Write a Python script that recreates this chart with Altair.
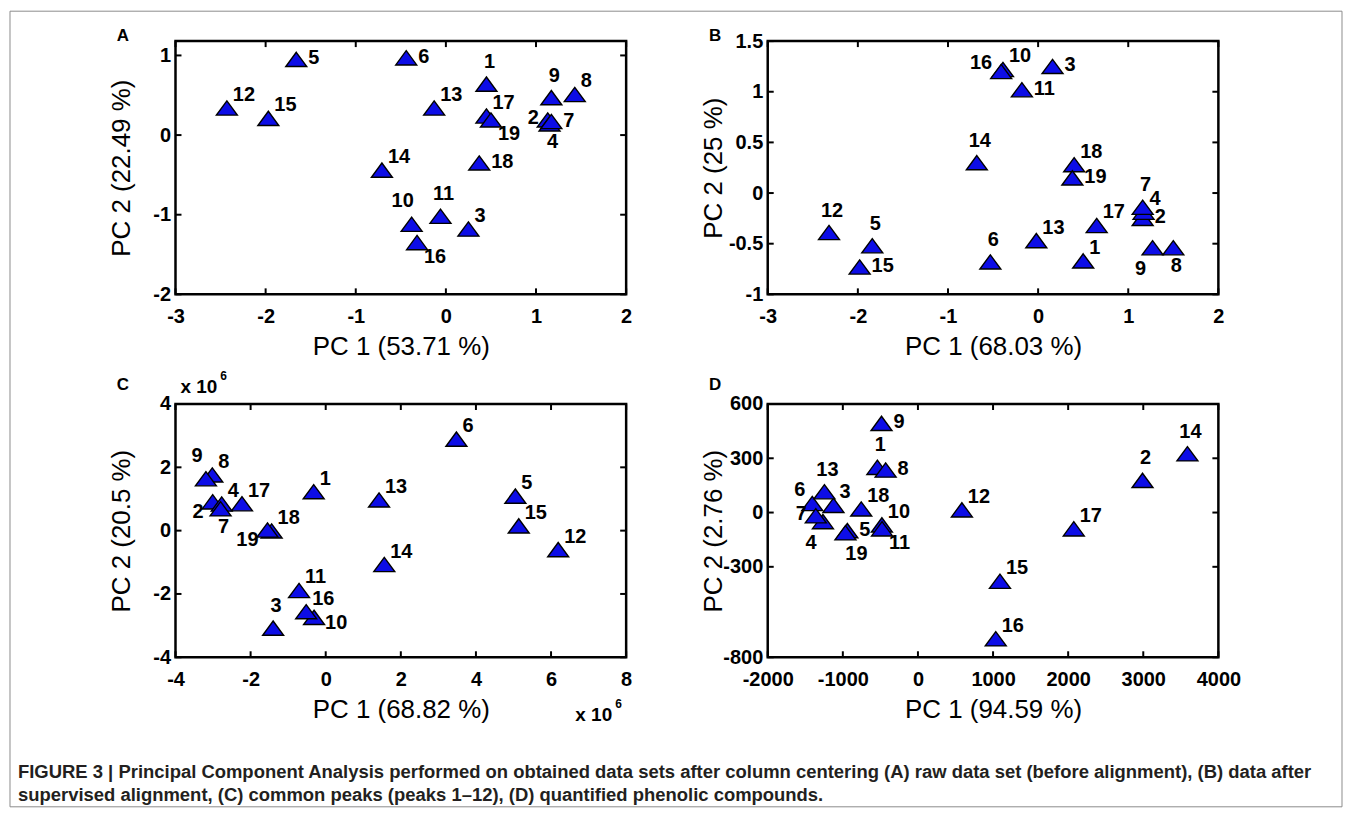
import altair as alt
import pandas as pd

LABELS = [str(i) for i in range(1, 20)]

# Panel A: raw data set
A_X = [0.45, 1.13, 0.25, 1.15, -1.66, -0.44, 1.17, 1.43, 1.17, -0.38, -0.06, -2.43, -0.13, -0.71, -1.97, -0.32, 0.45, 0.37, 0.50]
A_Y = [0.64, 0.19, -1.18, 0.14, 0.95, 0.97, 0.17, 0.51, 0.47, -1.12, -1.02, 0.34, 0.34, -0.44, 0.21, -1.35, 0.24, -0.35, 0.19]
A_POS = ["N", "W", "NE", "S", "E", "E", "E", "NE", "N", "NW", "N", "NE", "NE", "NE", "NE", "SE", "NE", "E", "SE"]

# Panel B: after supervised alignment
B_X = [0.50, 1.16, 0.16, 1.17, -1.84, -0.53, 1.16, 1.50, 1.27, -0.39, -0.18, -2.32, -0.02, -0.68, -1.98, -0.41, 0.65, 0.40, 0.38]
B_Y = [-0.67, -0.25, 1.25, -0.19, -0.52, -0.68, -0.14, -0.54, -0.54, 1.22, 1.02, -0.39, -0.47, 0.30, -0.73, 1.20, -0.32, 0.28, 0.15]
B_POS = ["NE", "E", "E", "NE", "N", "N", "N", "S", "SW", "NE", "E", "N", "NE", "N", "E", "WNW", "NE", "NE", "E"]

# Panel C: common peaks (x 10^6)
C_X = [-0.32, -3.01, -1.40, -2.77, 5.05, 3.48, -2.80, -3.02, -3.19, -0.31, -0.71, 6.19, 1.42, 1.56, 5.14, -0.52, -2.23, -1.44, -1.55]
C_Y = [1.23, 0.91, -3.08, 0.84, 1.09, 2.89, 0.69, 1.76, 1.64, -2.74, -1.89, -0.60, 0.97, -1.07, 0.15, -2.56, 0.85, -0.01, 0.02]
C_POS = ["NE", "WSW", "N", "NE", "NE", "NE", "S", "NE", "NW", "ESE", "NE", "NE", "NE", "NE", "NE", "NE", "NE", "NE", "WSW"]

# Panel D: quantified phenolic compounds
D_X = [-540, 2990, -1125, -1265, -940, -1407, -1360, -430, -485, -480, -478, 585, -1245, 3588, 1092, 1036, 2075, -755, -965]
D_Y = [250, 178, 40, -50, -100, 50, -18, 235, 493, -68, -90, 15, 115, 325, -380, -698, -90, 20, -112]
D_POS = ["N", "N", "NE", "SW", "E", "WN", "W", "E", "E", "NE", "SE", "NE", "N", "N", "NE", "NE", "NE", "NE", "SSE"]

A_XT = [-3, -2, -1, 0, 1, 2]
A_YT = [-2, -1, 0, 1]
B_XT = [-3, -2, -1, 0, 1, 2]
B_YT = [-1, -0.5, 0, 0.5, 1, 1.5]
C_XT = [-4, -2, 0, 2, 4, 6, 8]
C_YT = [-4, -2, 0, 2, 4]
D_XT = [-2000, -1000, 0, 1000, 2000, 3000, 4000]
D_YT = [-800, -300, 0, 300, 600]

CAPTION_1 = ("FIGURE 3 | Principal Component Analysis performed on obtained data sets after column "
             "centering (A) raw data set (before alignment), (B) data after")
CAPTION_2 = "supervised alignment, (C) common peaks (peaks 1\u201312), (D) quantified phenolic compounds."

BLUE = "#0d0de6"
NUM_FONT = "Liberation Sans, Arial, Helvetica, sans-serif"
TXT_FONT = "Liberation Sans, Arial, Helvetica, sans-serif"
NUM_SIZE = 20
W, H = 452, 254
TRI = "M0,-0.68L1,0.68L-1,0.68Z"

PLACE = {
    "E": ("left", 12, -1),
    "NE": ("left", 6, -13),
    "N": ("center", 3, -22),
    "NW": ("center", -9, -23),
    "W": ("right", -9, -2),
    "S": ("center", 3, 18),
    "SE": ("left", 7, 14),
    "SW": ("center", -12, 21),
    "WNW": ("right", -9, -8),
    "WN": ("right", -7, -14),
    "WSW": ("right", -9, 10),
    "ESE": ("left", 11, 6),
    "SSE": ("center", 11, 21),
}


def one():
    return alt.Chart(pd.DataFrame({"k": [0]}))


def note(text, x, y, font=TXT_FONT, size=17, weight="bold", align="left", color="black"):
    return one().mark_text(align=align, baseline="middle", font=font, fontSize=size,
                           fontWeight=weight, color=color).encode(
        x=alt.value(x), y=alt.value(y), text=alt.value(text))


def panel(xs, ys, pos, xdom, ydom, xt, yt, xtitle, ytitle, letter, letter_y, extra=()):
    df = pd.DataFrame({"label": LABELS, "x": xs, "y": ys, "pos": pos})
    xaxis = alt.Axis(values=xt, ticks=False, tickSize=0, domain=False, grid=False,
                     labelExpr="'' + datum.value", labelFont=NUM_FONT, labelFontSize=NUM_SIZE,
                     labelFontWeight="bold", labelColor="black", labelPadding=22,
                     labelBaseline="middle", labelFlush=False, labelOverlap=False, labelBound=False,
                     title=xtitle, titleFont=TXT_FONT, titleFontSize=26, titleFontWeight="normal",
                     titleColor="black", titleY=52, titleBaseline="middle")
    yaxis = alt.Axis(values=yt, ticks=False, tickSize=0, domain=False, grid=False,
                     labelExpr="'' + datum.value", labelFont=NUM_FONT, labelFontSize=NUM_SIZE,
                     labelFontWeight="bold", labelColor="black", labelPadding=5,
                     labelBaseline="middle", labelFlush=False, labelOverlap=False, labelBound=False,
                     title=ytitle, titleFont=TXT_FONT, titleFontSize=26, titleFontWeight="normal",
                     titleColor="black", titleX=-54, titleY=H / 2, titleAngle=270,
                     titleBaseline="middle", titleAlign="center")
    xenc = alt.X("x:Q", scale=alt.Scale(domain=xdom, nice=False, zero=False), axis=xaxis)
    yenc = alt.Y("y:Q", scale=alt.Scale(domain=ydom, nice=False, zero=False), axis=yaxis)

    xt_df = pd.DataFrame({"x": xt})
    yt_df = pd.DataFrame({"y": yt})
    layers = [
        alt.Chart(xt_df).mark_rule(color="black", strokeWidth=2).encode(x=xenc, y=alt.value(0), y2=alt.value(6)),
        alt.Chart(xt_df).mark_rule(color="black", strokeWidth=2).encode(x=xenc, y=alt.value(H - 6), y2=alt.value(H)),
        alt.Chart(yt_df).mark_rule(color="black", strokeWidth=2).encode(y=yenc, x=alt.value(0), x2=alt.value(6)),
        alt.Chart(yt_df).mark_rule(color="black", strokeWidth=2).encode(y=yenc, x=alt.value(W - 6), x2=alt.value(W)),
    ]
    base = alt.Chart(df)
    layers.append(base.mark_point(shape=TRI, filled=True, fill=BLUE, stroke="black", strokeWidth=1.4,
                                  size=441, opacity=1).encode(x=xenc, y=yenc))
    for code, (al, dx, dy) in PLACE.items():
        if code not in pos:
            continue
        layers.append(base.transform_filter(alt.datum.pos == code).mark_text(
            align=al, baseline="middle", dx=dx, dy=dy, font=NUM_FONT, fontSize=NUM_SIZE,
            fontWeight="bold", color="black").encode(x=xenc, y=yenc, text="label:N"))
    layers.append(note(letter, -59, letter_y, size=17))
    layers.extend(extra)
    return alt.layer(*layers).properties(width=W, height=H)


frame = one().mark_rect(fillOpacity=0, stroke="#8c8c8c", strokeWidth=1).encode(
    x=alt.value(-166), x2=alt.value(1170), y=alt.value(-30), y2=alt.value(768))

c_extra = [
    note("x 10", 5, -17, size=19),
    note("6", 45, -28, size=12),
    note("x 10", 401, H + 58, size=19),
    note("6", 441, H + 47, size=12),
    note(CAPTION_1, -158, 369, size=18.5, color="#231f20"),
    note(CAPTION_2, -158, 392, size=18.5, color="#231f20"),
]

pa = panel(A_X, A_Y, A_POS, [-3, 2], [-2, 1.18], A_XT, A_YT,
           "PC 1 (53.71 %)", "PC 2 (22.49 %)", "A", -5, extra=[frame])
pb = panel(B_X, B_Y, B_POS, [-3, 2], [-1, 1.5], B_XT, B_YT,
           "PC 1 (68.03 %)", "PC 2 (25 %)", "B", -5)
pc = panel(C_X, C_Y, C_POS, [-4, 8], [-4, 4], C_XT, C_YT,
           "PC 1 (68.82 %)", "PC 2 (20.5 %)", "C", -19, extra=c_extra)
pd_ = panel(D_X, D_Y, D_POS, [-2000, 4000], [-800, 600], D_XT, D_YT,
            "PC 1 (94.59 %)", "PC 2 (2.76 %)", "D", -19)

chart = alt.concat(pa, pb, pc, pd_, columns=2, bounds="flush",
                   spacing=alt.RowColnumber(row=110, column=142)).properties(padding=0).configure_view(
    stroke="black", strokeWidth=2.5)

chart.save("out.html", embed_options={"renderer": "svg", "actions": False})
